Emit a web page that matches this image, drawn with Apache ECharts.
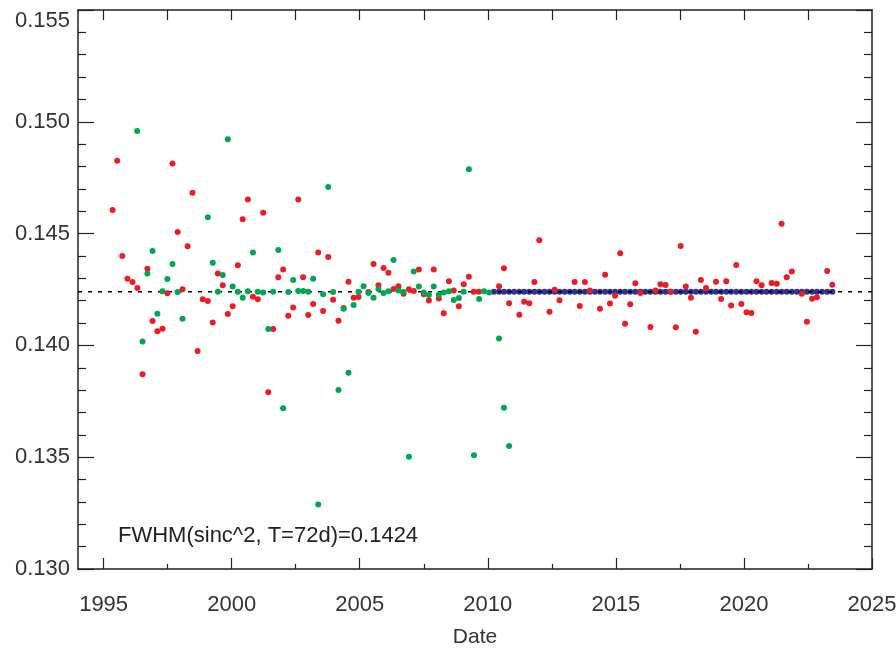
<!DOCTYPE html>
<html>
<head>
<meta charset="utf-8">
<script src="https://cdn.jsdelivr.net/npm/echarts@6/dist/echarts.min.js"></script>
<style>
  html, body { margin: 0; padding: 0; background: #fff; }
  #chart { width: 896px; height: 649px; }
</style>
</head>
<body>
<div id="chart"></div>
<script>
// fitted FWHM value (dotted line + note)
const fwhm = 0.1424;

// red points [date, fwhm]
const redPoints = [
  [1995.35,0.14606],[1995.53,0.14826],[1995.73,0.14400],[1995.93,0.14298],[1996.13,0.14284],
  [1996.32,0.14257],[1996.52,0.13871],[1996.71,0.14343],[1996.91,0.14109],[1997.10,0.14063],
  [1997.30,0.14075],[1997.49,0.14233],[1997.69,0.14813],[1997.89,0.14507],[1998.08,0.14251],
  [1998.28,0.14443],[1998.47,0.14683],[1998.67,0.13975],[1998.87,0.14206],[1999.07,0.14199],
  [1999.26,0.14102],[1999.46,0.14322],[1999.65,0.14269],[1999.85,0.14140],[2000.04,0.14175],
  [2000.24,0.14358],[2000.43,0.14564],[2000.63,0.14653],[2000.83,0.14218],[2001.02,0.14206],
  [2001.23,0.14593],[2001.43,0.13790],[2001.62,0.14073],[2001.82,0.14305],[2002.01,0.14339],
  [2002.21,0.14133],[2002.40,0.14169],[2002.60,0.14653],[2002.79,0.14305],[2002.99,0.14136],
  [2003.18,0.14185],[2003.38,0.14416],[2003.57,0.14154],[2003.77,0.14395],[2003.96,0.14204],
  [2004.17,0.14110],[2004.37,0.14167],[2004.56,0.14285],[2004.76,0.14213],[2004.95,0.14216],
  [2005.34,0.14239],[2005.54,0.14364],[2005.73,0.14269],[2005.93,0.14346],[2006.12,0.14325],
  [2006.32,0.14252],[2006.51,0.14264],[2006.71,0.14231],[2006.92,0.14251],[2007.11,0.14243],
  [2007.31,0.14340],[2007.50,0.14229],[2007.70,0.14201],[2007.89,0.14339],[2008.09,0.14210],
  [2008.28,0.14144],[2008.48,0.14287],[2008.67,0.14246],[2008.87,0.14175],[2009.06,0.14273],
  [2009.26,0.14307],[2009.45,0.14240],[2009.65,0.14240],
  [2010.44,0.14264],[2010.63,0.14345],[2010.83,0.14188],[2011.23,0.14137],[2011.42,0.14195],
  [2011.62,0.14188],[2011.82,0.14284],[2012.01,0.14470],[2012.41,0.14151],[2012.61,0.14249],
  [2012.80,0.14202],[2013.39,0.14284],[2013.59,0.14176],[2013.79,0.14284],[2013.99,0.14245],
  [2014.38,0.14164],[2014.58,0.14316],[2014.77,0.14187],[2014.97,0.14222],[2015.17,0.14412],
  [2015.36,0.14097],[2015.56,0.14184],[2015.76,0.14278],[2015.96,0.14234],[2016.35,0.14082],
  [2016.55,0.14245],[2016.74,0.14273],[2016.94,0.14270],[2017.14,0.14240],[2017.34,0.14081],
  [2017.53,0.14445],[2017.73,0.14263],[2017.93,0.14213],[2018.12,0.14061],[2018.32,0.14292],
  [2018.52,0.14257],[2018.91,0.14285],[2019.11,0.14208],[2019.31,0.14287],[2019.50,0.14178],
  [2019.70,0.14360],[2019.90,0.14185],[2020.10,0.14148],[2020.29,0.14145],[2020.49,0.14287],
  [2020.69,0.14269],[2021.08,0.14279],[2021.28,0.14276],[2021.47,0.14544],[2021.67,0.14305],
  [2021.87,0.14330],[2022.26,0.14231],[2022.46,0.14106],[2022.66,0.14209],[2022.85,0.14215],
  [2023.25,0.14333],[2023.45,0.14271]
];

// green points [date, fwhm]
const greenPoints = [
  [1996.31,0.14959],[1996.52,0.14017],[1996.71,0.14322],[1996.91,0.14422],[1997.10,0.14142],
  [1997.30,0.14242],[1997.49,0.14297],[1997.69,0.14364],[1997.89,0.14239],[1998.08,0.14119],
  [1999.07,0.14573],[1999.26,0.14370],[1999.46,0.14240],[1999.65,0.14315],[1999.85,0.14922],
  [2000.04,0.14263],[2000.24,0.14240],[2000.43,0.14213],[2000.63,0.14242],[2000.83,0.14416],
  [2001.02,0.14240],[2001.23,0.14237],[2001.43,0.14073],[2001.62,0.14240],[2001.82,0.14427],
  [2002.01,0.13719],[2002.21,0.14239],[2002.40,0.14292],[2002.60,0.14243],[2002.79,0.14243],
  [2002.99,0.14240],[2003.18,0.14298],[2003.38,0.13289],[2003.57,0.14229],[2003.77,0.14708],
  [2003.96,0.14239],[2004.17,0.13801],[2004.37,0.14164],[2004.56,0.13878],[2004.76,0.14181],
  [2004.95,0.14240],[2005.15,0.14264],[2005.34,0.14234],[2005.54,0.14213],[2005.73,0.14252],
  [2005.93,0.14234],[2006.12,0.14242],[2006.32,0.14382],[2006.51,0.14245],[2006.71,0.14239],
  [2006.92,0.13502],[2007.11,0.14330],[2007.31,0.14263],[2007.50,0.14237],[2007.70,0.14225],
  [2007.89,0.14263],[2008.09,0.14226],[2008.28,0.14237],[2008.48,0.14242],[2008.67,0.14203],
  [2008.87,0.14212],[2009.06,0.14240],[2009.26,0.14788],[2009.46,0.13509],[2009.66,0.14207],
  [2009.85,0.14242],[2010.05,0.14237],[2010.44,0.14031],[2010.63,0.13721],[2010.83,0.13550]
];

// blue points [date, fwhm]
const bluePoints = [
  [2010.24,0.1424],[2010.44,0.1424],[2010.63,0.1424],[2010.83,0.1424],[2011.03,0.1424],
  [2011.23,0.1424],[2011.42,0.1424],[2011.62,0.1424],[2011.82,0.1424],[2012.01,0.1424],
  [2012.21,0.1424],[2012.41,0.1424],[2012.61,0.1424],[2012.80,0.1424],[2013.00,0.1424],
  [2013.20,0.1424],[2013.39,0.1424],[2013.59,0.1424],[2013.79,0.1424],[2013.99,0.1424],
  [2014.18,0.1424],[2014.38,0.1424],[2014.58,0.1424],[2014.77,0.1424],[2014.97,0.1424],
  [2015.17,0.1424],[2015.36,0.1424],[2015.56,0.1424],[2015.76,0.1424],[2015.96,0.1424],
  [2016.15,0.1424],[2016.35,0.1424],[2016.55,0.1424],[2016.74,0.1424],[2016.94,0.1424],
  [2017.14,0.1424],[2017.34,0.1424],[2017.53,0.1424],[2017.73,0.1424],[2017.93,0.1424],
  [2018.12,0.1424],[2018.32,0.1424],[2018.52,0.1424],[2018.72,0.1424],[2018.91,0.1424],
  [2019.11,0.1424],[2019.31,0.1424],[2019.50,0.1424],[2019.70,0.1424],[2019.90,0.1424],
  [2020.10,0.1424],[2020.29,0.1424],[2020.49,0.1424],[2020.69,0.1424],[2020.88,0.1424],
  [2021.08,0.1424],[2021.28,0.1424],[2021.47,0.1424],[2021.67,0.1424],[2021.87,0.1424],
  [2022.07,0.1424],[2022.26,0.1424],[2022.46,0.1424],[2022.66,0.1424],[2022.85,0.1424],
  [2023.05,0.1424],[2023.25,0.1424],[2023.45,0.1424]
];

// date axis range and ticks
const xMin = 1994, xMax = 2025;
const yearLabels = [1995, 2000, 2005, 2010, 2015, 2020, 2025];
const yearMinor = [1997.5, 2002.5, 2007.5, 2012.5, 2017.5, 2022.5];
const topTicks = [1995, 1997.5, 2000, 2002.5, 2005, 2007.5, 2010, 2012.5, 2015, 2017.5, 2020, 2022.5];

const font = 'Liberation Sans';
const frame = { show: true, lineStyle: { color: '#222', width: 1.5 } };
const tickStyle = { color: '#222', width: 1.2 };

const chart = echarts.init(document.getElementById('chart'));
chart.setOption({
  animation: false,
  backgroundColor: '#fff',
  grid: { left: 78, right: 24, top: 10, bottom: 80, outerBoundsMode: 'none' },
  xAxis: [
    {
      type: 'value', position: 'bottom', min: xMin, max: xMax,
      axisLine: frame,
      axisTick: { show: true, inside: true, length: 11, customValues: yearLabels, lineStyle: tickStyle },
      axisLabel: {
        customValues: yearLabels, formatter: v => String(v),
        fontSize: 22, fontFamily: font, color: '#333', margin: 25
      },
      splitLine: { show: false },
      name: 'Date', nameLocation: 'middle', nameGap: 58,
      nameTextStyle: { fontSize: 21, fontFamily: font, color: '#333' }
    },
    {
      type: 'value', position: 'bottom', min: xMin, max: xMax,
      axisLine: { show: false },
      axisTick: { show: true, inside: true, length: 5, customValues: yearMinor, lineStyle: tickStyle },
      axisLabel: { show: false },
      splitLine: { show: false }
    },
    {
      type: 'value', position: 'top', min: xMin, max: xMax,
      axisLine: frame,
      axisTick: { show: true, inside: true, length: 10, customValues: topTicks, lineStyle: tickStyle },
      axisLabel: { show: false },
      splitLine: { show: false }
    }
  ],
  yAxis: [
    {
      type: 'value', position: 'left', min: 0.130, max: 0.155, interval: 0.005,
      axisLine: frame,
      axisTick: { show: true, inside: true, length: 16, lineStyle: tickStyle },
      minorTick: { show: true, splitNumber: 5, length: 8, lineStyle: tickStyle },
      axisLabel: {
        formatter: v => v.toFixed(3), fontSize: 22, fontFamily: font, color: '#333', margin: 8,
        verticalAlignMaxLabel: 'top'
      },
      splitLine: { show: false }
    },
    {
      type: 'value', position: 'right', min: 0.130, max: 0.155, interval: 0.005,
      axisLine: frame,
      axisTick: { show: true, inside: true, length: 16, lineStyle: tickStyle },
      minorTick: { show: true, splitNumber: 5, length: 8, lineStyle: tickStyle },
      axisLabel: { show: false },
      splitLine: { show: false }
    }
  ],
  series: [
    {
      type: 'scatter', data: bluePoints, symbolSize: 6, z: 2, silent: true,
      itemStyle: { color: '#2e3192', opacity: 1 }
    },
    {
      // dotted line at the fitted FWHM, across the full date range
      type: 'line', data: [[xMin, fwhm], [xMax, fwhm]], z: 3, silent: true,
      symbol: 'none',
      lineStyle: { color: '#000', type: [4, 6], width: 1.5 }
    },
    {
      type: 'scatter', data: redPoints, symbolSize: 6, z: 6, silent: true,
      itemStyle: { color: '#ed1c24', opacity: 1 }
    },
    {
      type: 'scatter', data: greenPoints, symbolSize: 6, z: 7, silent: true,
      itemStyle: { color: '#00a651', opacity: 1 }
    }
  ],
  graphic: [
    {
      type: 'text', left: 118, top: 525, silent: true,
      style: { text: 'FWHM(sinc^2, T=72d)=' + fwhm.toFixed(4), fontSize: 22, fontFamily: font, fill: '#222' }
    }
  ]
});
</script>
</body>
</html>
